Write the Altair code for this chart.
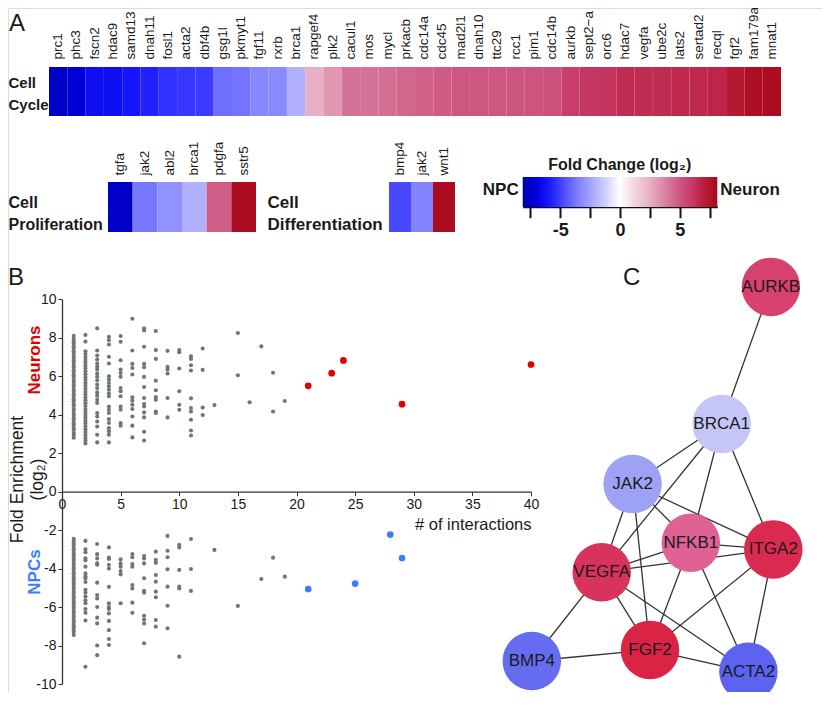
import altair as alt
import pandas as pd

FONT = "Liberation Sans"
W, H = 814, 684
INK = "#1a1a1a"

# ---------------- Panel A: fold-change heatmaps ----------------
cycle_genes = ["prc1", "phc3", "fscn2", "hdac9", "samd13", "dnah11", "fosl1", "acta2", "dbf4b",
               "gsg1l", "pkmyt1", "fgf11", "rxrb", "brca1", "rapgef4", "plk2", "cacul1", "mos",
               "mycl", "prkacb", "cdc14a", "cdc45", "mad2l1", "dnah10", "ttc29", "rcc1", "pim1",
               "cdc14b", "aurkb", "sept2−a", "orc6", "hdac7", "vegfa", "ube2c", "lats2", "sertad2",
               "recql", "fgf2", "fam179a", "mnat1"]
cycle_fc = [-7.5, -7.2, -6.3, -6.3, -6.0, -5.7, -5.3, -5.2, -5.1,
            -3.9, -3.8, -3.3, -3.2, -2.1, 2.5, 3.2, 4.2, 4.2,
            4.3, 4.5, 4.7, 4.9, 5.0, 5.0, 5.0, 5.1, 5.1,
            5.2, 5.9, 6.1, 6.2, 6.5, 6.5, 6.5, 6.6, 6.6,
            6.7, 7.3, 7.8, 7.9]

prolif_genes = ["tgfa", "jak2", "abl2", "brca1", "pdgfa", "sstr5"]
prolif_fc = [-7.5, -3.7, -3.0, -2.1, 4.8, 7.9]

diff_genes = ["bmp4", "jak2", "wnt1"]
diff_fc = [-4.8, -3.4, 7.9]

# colour map of the fold-change bar (NPC blue -> white -> Neuron red)
fc_stops = [-8.13, -7.0, -5.9, -4.8, -3.7, -2.6, -1.4, 0, 1.4, 2.5, 3.6, 4.7, 5.8, 6.9, 8.13]
fc_colors = ["#0000a8", "#0000e0", "#1818ff", "#4848ff", "#7878ff", "#a0a0ff", "#c8c8ff", "#ffffff",
             "#f0d0dc", "#e8b0c4", "#dc88a8", "#d06088", "#c84070", "#bc2040", "#a80818"]
fc_ticks = [-7.5, -5, -2.5, 0, 2.5, 5, 7.5]

# ---------------- Panel B: enrichment vs interactions ----------------
bg_interactions = list(range(1, 20))
neuron_bg = [
    [8.1, 7.95, 7.8, 7.7, 7.55, 7.45, 7.3, 7.2, 7.05, 6.95, 6.8, 6.7, 6.55, 6.45, 6.3, 6.2, 6.05,
     5.95, 5.8, 5.7, 5.55, 5.45, 5.3, 5.2, 5.05, 4.95, 4.8, 4.7, 4.55, 4.45, 4.3, 4.2, 4.05, 3.95,
     3.8, 3.7, 3.55, 3.45, 3.3, 3.2, 3.05, 2.95, 2.8],
    [8.15, 7.8, 7.3, 7.15, 7.0, 6.85, 6.7, 6.55, 6.4, 6.25, 6.1, 5.95, 5.8, 5.65, 5.5, 5.35, 5.2,
     5.05, 4.9, 4.75, 4.6, 4.45, 4.3, 4.15, 4.0, 3.85, 3.7, 3.55, 3.4, 3.25, 3.1, 2.95, 2.8, 2.65, 2.5],
    [8.49, 7.34, 7.08, 6.87, 6.66, 6.49, 6.35, 6.14, 5.97, 5.79, 5.57, 5.39, 5.17, 4.99, 4.78, 4.61,
     4.09, 3.91, 3.65, 3.39, 2.96, 2.56],
    [8.05, 7.88, 7.65, 7.01, 6.66, 6.0, 5.83, 5.65, 5.48, 5.3, 5.1, 4.96, 4.43, 4.26, 4.09, 3.77,
     3.57, 3.3, 3.13, 2.96, 2.56],
    [8.09, 7.79, 6.83, 6.35, 6.17, 5.97, 5.39, 5.22, 4.96, 4.43, 4.26, 3.57, 3.43],
    [8.99, 7.34, 6.64, 6.43, 6.09, 4.9, 4.73, 4.52, 4.3, 3.91, 3.43, 2.82],
    [8.49, 8.38, 7.53, 6.64, 6.47, 5.97, 5.44, 4.87, 4.56, 4.43, 4.12, 3.86, 3.11, 2.66],
    [8.35, 7.36, 6.9, 5.77, 5.27, 4.92, 4.78, 4.17, 4.09],
    [7.32, 6.49, 6.35, 6.14, 4.87, 3.86],
    [7.36, 7.25, 6.4, 5.22, 4.52, 4.26],
    [7.04, 6.9, 6.57, 6.3, 4.85, 4.35, 4.17, 3.74, 3.18, 2.92],
    [7.44, 6.33, 4.37, 3.98],
    [4.5],
    [],
    [8.25, 6.05],
    [4.65],
    [7.55],
    [6.18, 4.17],
    [4.71],
]
npc_bg = [
    [-2.45, -2.55, -2.7, -2.8, -2.95, -3.05, -3.2, -3.3, -3.45, -3.55, -3.7, -3.8, -3.95, -4.05,
     -4.2, -4.3, -4.45, -4.55, -4.7, -4.8, -4.95, -5.05, -5.2, -5.3, -5.45, -5.55, -5.7, -5.8,
     -5.95, -6.05, -6.2, -6.3, -6.45, -6.55, -6.7, -6.8, -6.95, -7.05, -7.2, -7.3, -7.45],
    [-2.56, -3.0, -3.15, -3.47, -3.57, -3.9, -4.25, -4.4, -4.5, -4.7, -5.1, -5.25, -5.45, -5.65,
     -5.8, -6.1, -6.3, -6.7, -9.1],
    [-2.72, -3.25, -3.47, -3.73, -3.8, -4.73, -5.37, -5.55, -6.0, -6.55, -6.85, -8.0, -8.5],
    [-2.9, -3.43, -3.5, -3.8, -4.0, -4.95, -5.8, -6.0, -6.1, -6.33, -6.72, -7.2, -7.66, -7.97],
    [-3.52, -3.73, -3.9, -4.13, -4.3, -5.8],
    [-3.24, -3.41, -3.76, -3.9, -4.85, -5.03, -5.77, -6.3],
    [-3.35, -3.47, -3.73, -4.5, -5.15, -5.25, -6.45, -6.65, -6.85, -7.88],
    [-3.12, -3.55, -3.7, -4.33, -4.68, -5.2, -5.49, -6.67, -7.02],
    [-2.3, -3.07, -3.41, -4.04, -4.94, -5.93, -7.1],
    [-2.77, -2.9, -4.07, -4.94, -5.03, -8.58],
    [-2.46, -4.02, -5.16],
    [],
    [-3.03],
    [],
    [-5.94],
    [],
    [-4.54],
    [-3.43],
    [-4.42],
]
neuron_hub_x = [21, 23, 24, 29, 40]
neuron_hub_y = [5.5, 6.16, 6.82, 4.55, 6.61]
npc_hub_x = [21, 25, 28, 29]
npc_hub_y = [-5.06, -4.78, -2.23, -3.45]

# ---------------- Panel C: interaction network ----------------
node_names = ["AURKB", "BRCA1", "JAK2", "NFKB1", "ITGA2", "VEGFA", "FGF2", "BMP4", "ACTA2"]
node_x = [90.3, 73.9, 44.2, 63.6, 91.1, 33.9, 50.0, 10.6, 82.8]
node_y = [137.7, 92.0, 72.0, 52.4, 50.2, 42.6, 16.7, 13.0, 9.4]
node_fc = [5.3, -1.8, -3.0, 4.0, 6.3, 5.9, 6.6, -4.8, -5.1]
edge_from = ["AURKB", "BRCA1", "BRCA1", "BRCA1", "BRCA1", "JAK2", "JAK2", "JAK2", "JAK2",
             "NFKB1", "VEGFA", "VEGFA", "VEGFA", "VEGFA", "VEGFA", "NFKB1", "NFKB1", "ITGA2",
             "ITGA2", "FGF2", "FGF2"]
edge_to = ["BRCA1", "JAK2", "VEGFA", "NFKB1", "ITGA2", "NFKB1", "ITGA2", "VEGFA", "FGF2",
           "ITGA2", "ITGA2", "NFKB1", "FGF2", "ACTA2", "BMP4", "FGF2", "ACTA2", "FGF2",
           "ACTA2", "BMP4", "ACTA2"]
net_stops = [-5.5, -3.0, -1.8, 0, 4.0, 5.3, 7.0]
net_colors = ["#4f57ef", "#9da2f4", "#c5c6f7", "#ffffff", "#e06294", "#d6416e", "#dc1a3a"]

# =====================================================================
color_enc = alt.Color(
    "fc:Q",
    scale=alt.Scale(domain=fc_stops, range=fc_colors, interpolate="rgb"),
    legend=alt.Legend(
        orient="none", legendX=514.7, legendY=149, direction="horizontal",
        gradientLength=194.6, gradientThickness=30, gradientStrokeWidth=0,
        title="Fold Change (log₂)", titleFont=FONT, titleFontSize=16, titleFontWeight="bold",
        titleColor=INK, titleAnchor="middle", titlePadding=4,
        labelOpacity=0, labelFontSize=2, padding=0, offset=0,
    ),
)


def heat_layer(genes, fc, row_label, x_range, y_range, top_pad, row_font, row_pad, row_off):
    df = pd.DataFrame({"gene": genes, "fc": fc, "row": [row_label] * len(genes)})
    return alt.Chart(df).mark_rect(strokeWidth=0).encode(
        x=alt.X("gene:N", sort=genes,
                scale=alt.Scale(range=x_range, paddingInner=0, paddingOuter=0),
                axis=alt.Axis(orient="top", offset=-y_range[0], labelAngle=-90, domain=False,
                              ticks=False, tickSize=0, labelPadding=top_pad, labelFont=FONT,
                              labelFontSize=13.5, labelColor=INK, title=None, labelOverlap=False)),
        y=alt.Y("row:N",
                scale=alt.Scale(range=y_range, paddingInner=0, paddingOuter=0),
                axis=alt.Axis(orient="left", offset=-x_range[0], domain=False, ticks=False,
                              tickSize=0, labelPadding=row_pad, labelAlign="left",
                              labelBaseline="middle", labelExpr="split(datum.label, ' ')",
                              labelFont=FONT, labelFontSize=row_font, labelFontWeight="bold",
                              labelLineHeight=21.5, labelOffset=row_off, labelColor=INK,
                              title=None, labelLimit=300)),
        color=color_enc,
    )


heat_cycle = heat_layer(cycle_genes, cycle_fc, "Cell Cycle", [41, 773], [59, 108], 8, 15, 41, -8.5)
heat_prolif = heat_layer(prolif_genes, prolif_fc, "Cell Proliferation", [100, 248], [174, 224], 7, 16, 100, -4)
heat_diff = heat_layer(diff_genes, diff_fc, "Cell Differentiation", [381, 447], [174, 224], 7, 17, 122, -4)

# colour-bar tick axis and end labels
cb_scale = alt.Scale(domain=[fc_stops[0], fc_stops[-1]], range=[514.7, 709.3], nice=False, zero=False)
cb_left = alt.Chart(pd.DataFrame({"label": ["NPC"], "v": [fc_stops[0]]})).mark_text(
    align="right", baseline="middle", dx=-4, font=FONT, fontSize=17, fontWeight="bold", color=INK
).encode(
    x=alt.X("v:Q", scale=cb_scale,
            axis=alt.Axis(orient="bottom", offset=198.7 - H, values=fc_ticks, tickSize=11,
                          tickWidth=2, tickColor="#111", domainColor="#111", domainWidth=2,
                          labelExpr="datum.value % 5 == 0 ? toString(datum.value) : ''",
                          labelFont=FONT, labelFontSize=18, labelFontWeight="bold",
                          labelColor=INK, labelPadding=4, title=None, grid=False,
                          labelOverlap=False, labelFlush=False)),
    y=alt.value(182),
    text="label:N",
)
cb_right = alt.Chart(pd.DataFrame({"label": ["Neuron"], "v": [fc_stops[-1]]})).mark_text(
    align="left", baseline="middle", dx=3, font=FONT, fontSize=17, fontWeight="bold", color=INK
).encode(
    x=alt.X("v:Q", scale=cb_scale, axis=None),
    y=alt.value(182),
    text="label:N",
)

# ---------------- scatter ----------------
bx, by = [], []
for k, vals in zip(bg_interactions, neuron_bg):
    bx += [k] * len(vals)
    by += vals
for k, vals in zip(bg_interactions, npc_bg):
    bx += [k] * len(vals)
    by += vals
bg_df = pd.DataFrame({"k": bx, "e": by})

sx = alt.Scale(domain=[0, 40], range=[54, 523], nice=False, zero=False)
sy = alt.Scale(domain=[-10, 10], range=[676, 291.3], nice=False, zero=False)

scatter_bg = alt.Chart(bg_df).mark_circle(size=17, opacity=1, color="#6d7777").encode(
    x=alt.X("k:Q", scale=sx,
            axis=alt.Axis(orient="bottom", offset=483.7 - H, values=list(range(0, 45, 5)),
                          tickSize=4, tickColor="#333", domainColor="#333", domainWidth=1.3,
                          labelFont=FONT, labelFontSize=14, labelColor=INK, labelPadding=2,
                          labelExpr="toString(datum.value)", grid=False, labelFlush=False,
                          labelOverlap=False,
                          title="# of interactions", titleFont=FONT, titleFontSize=16.5,
                          titleFontWeight="normal", titleColor=INK, titleX=523, titleY=33,
                          titleAlign="right", titleBaseline="middle", titleAnchor="end")),
    y=alt.Y("e:Q", scale=sy,
            axis=alt.Axis(orient="left", offset=-54, values=list(range(-10, 12, 2)),
                          tickSize=4, tickColor="#333", domainColor="#333", domainWidth=1.3,
                          labelFont=FONT, labelFontSize=14, labelColor=INK, labelPadding=2,
                          labelExpr="toString(datum.value)", grid=False, labelFlush=False,
                          labelOverlap=False,
                          title=["Fold Enrichment", "(log₂)"], titleFont=FONT, titleFontSize=17.5,
                          titleFontWeight="normal", titleColor=INK, titleAngle=270,
                          titleX=-45, titleY=471, titleAlign="center",
                          titleBaseline="middle", titleLineHeight=20)),
)
scatter_red = alt.Chart(pd.DataFrame({"k": neuron_hub_x, "e": neuron_hub_y})).mark_circle(
    size=45, opacity=1, color="#e00000").encode(
    x=alt.X("k:Q", scale=sx, axis=None), y=alt.Y("e:Q", scale=sy, axis=None))
scatter_blue = alt.Chart(pd.DataFrame({"k": npc_hub_x, "e": npc_hub_y})).mark_circle(
    size=45, opacity=1, color="#3a7dff").encode(
    x=alt.X("k:Q", scale=sx, axis=None), y=alt.Y("e:Q", scale=sy, axis=None))

lab_neurons = alt.Chart(pd.DataFrame({"t": ["Neurons"]})).mark_text(
    angle=270, font=FONT, fontSize=17, fontWeight="bold", color="#e00000",
    align="center", baseline="middle").encode(text="t:N", x=alt.value(27), y=alt.value(352))
lab_npcs = alt.Chart(pd.DataFrame({"t": ["NPCs"]})).mark_text(
    angle=270, font=FONT, fontSize=17, fontWeight="bold", color="#3a7dff",
    align="center", baseline="middle").encode(text="t:N", x=alt.value(27), y=alt.value(564))

# ---------------- network ----------------
pos = {n: (x, y) for n, x, y in zip(node_names, node_x, node_y)}
edges_df = pd.DataFrame({
    "x": [pos[a][0] for a in edge_from], "y": [pos[a][1] for a in edge_from],
    "x2": [pos[b][0] for b in edge_to], "y2": [pos[b][1] for b in edge_to],
})
nodes_df = pd.DataFrame({"name": node_names, "x": node_x, "y": node_y, "fc": node_fc})
nx = alt.Scale(domain=[0, 100], range=[492, 792], nice=False, zero=False)
ny = alt.Scale(domain=[0, 150], range=[692, 242], nice=False, zero=False)

net_edges = alt.Chart(edges_df).mark_rule(color="#333333", strokeWidth=1.3).encode(
    x=alt.X("x:Q", scale=nx, axis=None), y=alt.Y("y:Q", scale=ny, axis=None),
    x2="x2:Q", y2="y2:Q")
net_nodes = alt.Chart(nodes_df).mark_circle(size=3421, opacity=1).encode(
    x=alt.X("x:Q", scale=nx, axis=None), y=alt.Y("y:Q", scale=ny, axis=None),
    fill=alt.Fill("fc:Q", scale=alt.Scale(domain=net_stops, range=net_colors, interpolate="rgb"),
                  legend=None))
net_labels = alt.Chart(nodes_df).mark_text(font=FONT, fontSize=17, color=INK,
                                           baseline="middle").encode(
    x=alt.X("x:Q", scale=nx, axis=None), y=alt.Y("y:Q", scale=ny, axis=None), text="name:N")

# ---------------- panel letters ----------------
def letter(t, x, y):
    return alt.Chart(pd.DataFrame({"t": [t]})).mark_text(
        font=FONT, fontSize=24, color=INK, align="left", baseline="alphabetic").encode(
        text="t:N", x=alt.value(x), y=alt.value(y))


chart = alt.layer(
    heat_cycle, heat_prolif, heat_diff, cb_left, cb_right,
    scatter_bg, scatter_red, scatter_blue, lab_neurons, lab_npcs,
    net_edges, net_nodes, net_labels,
    letter("A", 1, 23), letter("B", 0, 277), letter("C", 615, 277),
).resolve_scale(
    x="independent", y="independent"
).resolve_axis(
    x="independent", y="independent"
).properties(
    width=W, height=H, padding=0, autosize=alt.AutoSizeParams(type="none")
).configure_view(stroke=None).configure(font=FONT)

chart.save("out.html", embed_options={"renderer": "svg", "actions": False})
